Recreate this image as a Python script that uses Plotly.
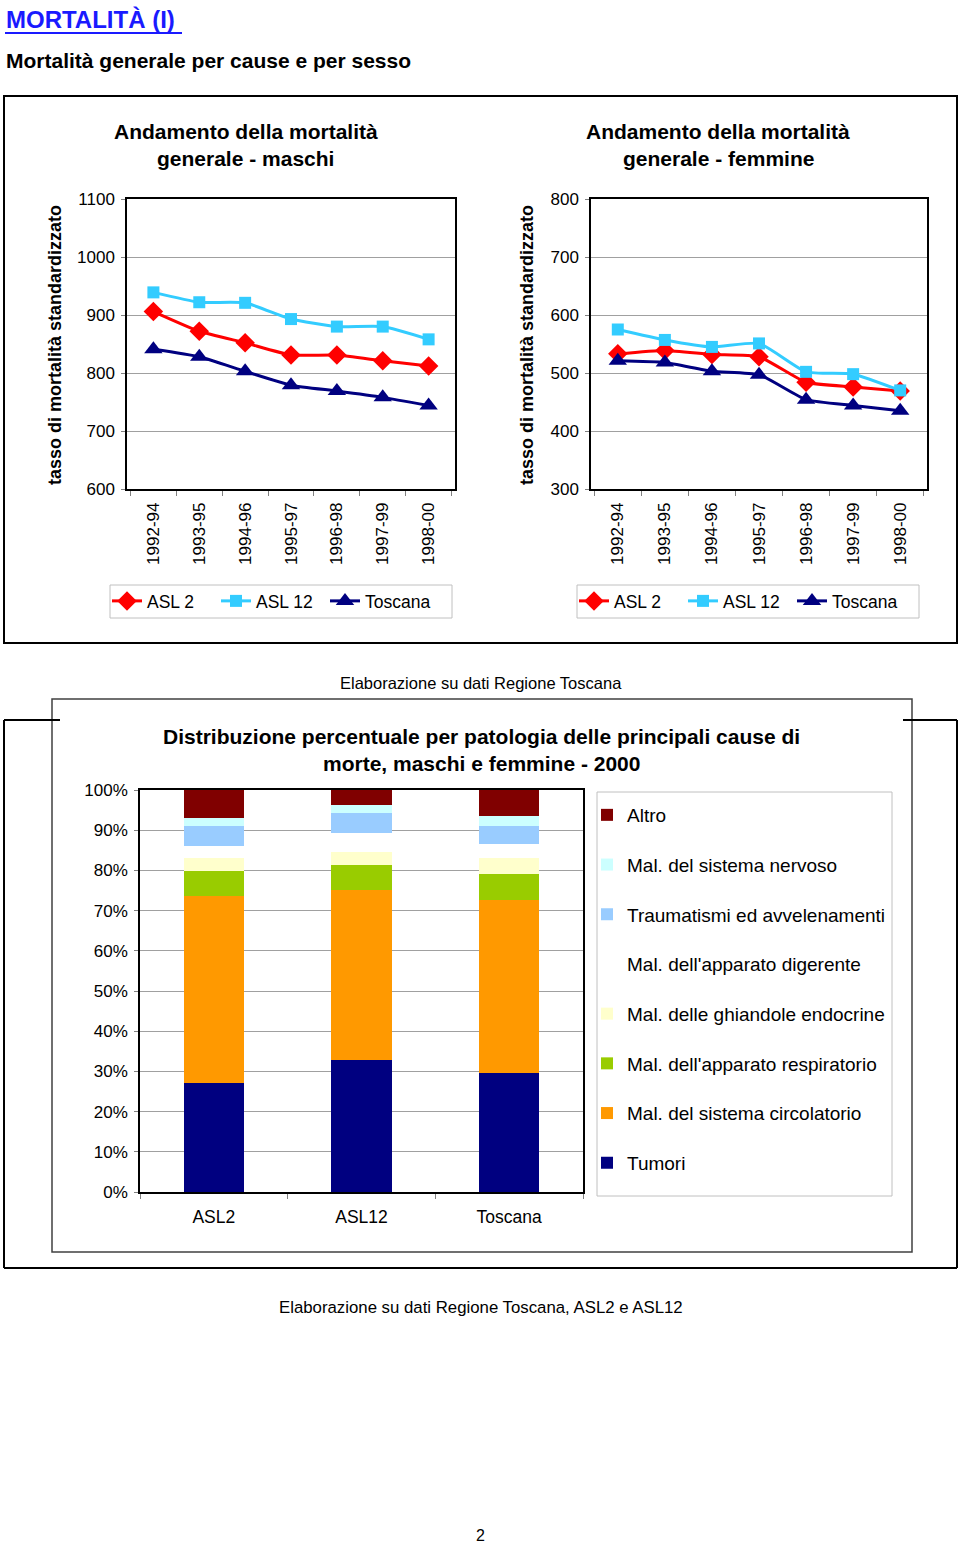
import plotly.graph_objects as go

W, H = 960, 1545
FONT = "Liberation Sans, Arial, sans-serif"

# ---------------- data ----------------
periods = ["1992-94", "1993-95", "1994-96", "1995-97", "1996-98", "1997-99", "1998-00"]
series_names = ["ASL 2", "ASL 12", "Toscana"]
# maschi
m_asl2 = [906, 872, 852, 831, 831, 821, 812]
m_asl12 = [939, 922, 921, 893, 880, 880, 858]
m_tosc = [841, 828, 803, 779, 769, 758, 744]
# femmine
f_asl2 = [533, 539, 532, 528, 484, 476, 469]
f_asl12 = [575, 557, 545, 551, 502, 498, 470]
f_tosc = [521, 518, 503, 497, 454, 444, 435]

areas = ["ASL2", "ASL12", "Toscana"]
causes = ["Tumori", "Mal. del sistema circolatorio", "Mal. dell'apparato respiratorio",
          "Mal. delle ghiandole endocrine", "Mal. dell'apparato digerente",
          "Traumatismi ed avvelenamenti", "Mal. del sistema nervoso", "Altro"]
pct_tumori = [27.0, 32.8, 29.7]
pct_circ = [46.6, 42.3, 42.9]
pct_resp = [6.3, 6.2, 6.4]
pct_endo = [3.3, 3.4, 4.0]
pct_dig = [2.9, 4.7, 3.6]
pct_traum = [5.0, 5.0, 4.5]
pct_nerv = [2.0, 1.9, 2.5]
pct_altro = [6.9, 3.7, 6.4]
cause_values = [pct_tumori, pct_circ, pct_resp, pct_endo, pct_dig, pct_traum, pct_nerv, pct_altro]
cause_colors = ["#000080", "#FF9900", "#99CC00", "#FFFFCC", "#FFFFFF", "#99CCFF", "#CCFFFF", "#800000"]

line_colors = ["#FF0000", "#33CCFF", "#000080"]
line_symbols = ["diamond", "square", "triangle-up"]
line_msizes = [15, 12, 16]


def px(x):
    return x / W


def py(y):
    return 1 - y / H


fig = go.Figure()

# ---------------- line charts ----------------
for (vals, axis_x, axis_y, leg) in [
    ([m_asl2, m_asl12, m_tosc], "x", "y", "legend"),
    ([f_asl2, f_asl12, f_tosc], "x2", "y2", "legend2"),
]:
    for name, v, c, s, ms in zip(series_names, vals, line_colors, line_symbols, line_msizes):
        fig.add_trace(go.Scatter(
            x=periods, y=v, name=name, mode="lines+markers",
            line=dict(color=c, width=3, shape="spline", smoothing=0.5),
            marker=dict(color=c, symbol=s, size=ms),
            xaxis=axis_x, yaxis=axis_y, legend=leg, showlegend=True,
        ))

# ---------------- stacked bars ----------------
n = len(causes)
for i, (name, v, c) in enumerate(zip(causes, cause_values, cause_colors)):
    fig.add_trace(go.Bar(
        x=areas, y=v, name=name, marker=dict(color=c, line=dict(width=0)),
        xaxis="x3", yaxis="y3", legend="legend3", legendgroup="g%d" % i,
        legendrank=n - i,
    ))

grid = "#A0A0A0"
common_x = dict(type="category", showline=True, linecolor="black", linewidth=1.5, mirror=True,
                ticks="outside", ticklen=5, tickcolor="#808080", tickson="boundaries",
                showgrid=False, tickfont=dict(size=17, color="black", family=FONT),
                tickangle=-90, fixedrange=True, automargin=False, ticklabelstandoff=5)
common_y = dict(showline=True, linecolor="black", linewidth=1.5, mirror=True,
                ticks="outside", ticklen=4, tickcolor="#808080",
                showgrid=True, gridcolor=grid, gridwidth=1, zeroline=False,
                tickfont=dict(size=17, color="black", family=FONT), fixedrange=True,
                automargin=False, ticklabelstandoff=3)

top_dom = [py(489), py(199)]
leg_common = dict(orientation="h", xanchor="left", yanchor="middle", borderwidth=0,
                  bgcolor="rgba(0,0,0,0)", entrywidth=64, entrywidthmode="pixels",
                  font=dict(size=17.5, family=FONT), itemclick=False, itemdoubleclick=False)

fig.update_layout(
    width=W, height=H, margin=dict(l=0, r=0, t=0, b=0, pad=0, autoexpand=False),
    paper_bgcolor="white", plot_bgcolor="white",
    font=dict(family=FONT, color="black"),
    barmode="stack", bargap=0.59,
    xaxis=dict(domain=[px(127), px(455)], anchor="y", **common_x),
    yaxis=dict(domain=top_dom, anchor="x", range=[600, 1100], dtick=100, **common_y),
    xaxis2=dict(domain=[px(591), px(927)], anchor="y2", **common_x),
    yaxis2=dict(domain=top_dom, anchor="x2", range=[300, 800], dtick=100, **common_y),
    xaxis3=dict(domain=[px(140), px(583)], anchor="y3", type="category", showline=True,
                linecolor="black", linewidth=1.5, mirror=True, ticks="outside", ticklen=5,
                tickcolor="#808080", tickson="boundaries", showgrid=False,
                ticklabelstandoff=8, automargin=False,
                tickfont=dict(size=17.5, color="black", family=FONT), fixedrange=True),
    yaxis3=dict(domain=[py(1192), py(790)], anchor="x3", range=[0, 100], dtick=10,
                ticksuffix="%", **common_y),
    legend=dict(x=px(107), y=py(601), **leg_common),
    legend2=dict(x=px(574), y=py(601), **leg_common),
    legend3=dict(orientation="v", x=px(587), y=py(796), xanchor="left", yanchor="top",
                 borderwidth=0, bgcolor="rgba(0,0,0,0)",
                 traceorder="grouped", tracegroupgap=22, itemwidth=30,
                 font=dict(size=19, family=FONT), itemclick=False, itemdoubleclick=False),
    showlegend=True,
)

# ---------------- boxes ----------------
def rect(x0, y0, x1, y1, color, width):
    return dict(type="rect", xref="paper", yref="paper", x0=px(x0), x1=px(x1), y0=py(y0), y1=py(y1),
                line=dict(color=color, width=width), fillcolor="rgba(0,0,0,0)", layer="below")


def hline(x0, x1, y, color="black", width=2):
    return dict(type="line", xref="paper", yref="paper", x0=px(x0), x1=px(x1), y0=py(y), y1=py(y),
                line=dict(color=color, width=width))


def vline(x, y0, y1, color="black", width=2):
    return dict(type="line", xref="paper", yref="paper", x0=px(x), x1=px(x), y0=py(y0), y1=py(y1),
                line=dict(color=color, width=width))


shapes = [
    rect(4, 96, 957, 643, "black", 2),
    hline(4, 60, 720), hline(903, 957, 720),
    vline(4, 720, 1268), vline(957, 720, 1268), hline(4, 957, 1268),
    rect(52, 699, 912, 1252, "#404040", 1.5),
    # legend boxes
    rect(110, 585, 452, 618, "#C0C0C0", 1),
    rect(577, 585, 919, 618, "#C0C0C0", 1),
    rect(597, 792, 892, 1196, "#C0C0C0", 1),
    # title underline
    hline(5, 182, 33, "#1A1AFF", 2),
]
fig.update_layout(shapes=shapes)

# ---------------- texts ----------------
def ann(text, x, y, size, bold=False, color="black", xanchor="center", angle=0):
    t = "<b>%s</b>" % text if bold else text
    return dict(text=t, x=px(x), y=py(y), xref="paper", yref="paper", showarrow=False,
                xanchor=xanchor, yanchor="middle", textangle=angle,
                font=dict(size=size, color=color, family=FONT))

annotations = [
    ann("MORTALITÀ (I)", 4, 20, 24, bold=True, color="#1A1AFF", xanchor="left"),
    ann("Mortalità generale per cause e per sesso", 4, 61, 21, bold=True, xanchor="left"),
    ann("Andamento della mortalità", 246, 131, 21, bold=True),
    ann("generale - maschi", 246, 158, 21, bold=True),
    ann("Andamento della mortalità", 718, 131, 21, bold=True),
    ann("generale - femmine", 718, 158, 21, bold=True),
    ann("tasso di mortalità standardizzato", 55, 345, 18, bold=True, angle=-90),
    ann("tasso di mortalità standardizzato", 527, 345, 18, bold=True, angle=-90),
    ann("Elaborazione su dati Regione Toscana", 481, 683, 16.5),
    ann("Distribuzione percentuale per patologia delle principali cause di", 481, 736, 21, bold=True),
    ann("morte, maschi e femmine - 2000", 481, 763, 21, bold=True),
    ann("Elaborazione su dati Regione Toscana, ASL2 e ASL12", 481, 1307, 16.8),
    ann("2", 480, 1535, 16),
]
fig.update_layout(annotations=annotations)

post = """
var gd = document.getElementById('{plot_id}');
document.documentElement.style.margin='0';
document.documentElement.style.padding='0';
document.documentElement.style.overflow='hidden';
document.body.style.margin='0';
document.body.style.padding='0';
document.body.style.overflow='hidden';
gd.style.position='absolute';
gd.style.left='0px';
gd.style.top='0px';
"""

fig.write_html("out.html", post_script=post, config={"displayModeBar": False})
